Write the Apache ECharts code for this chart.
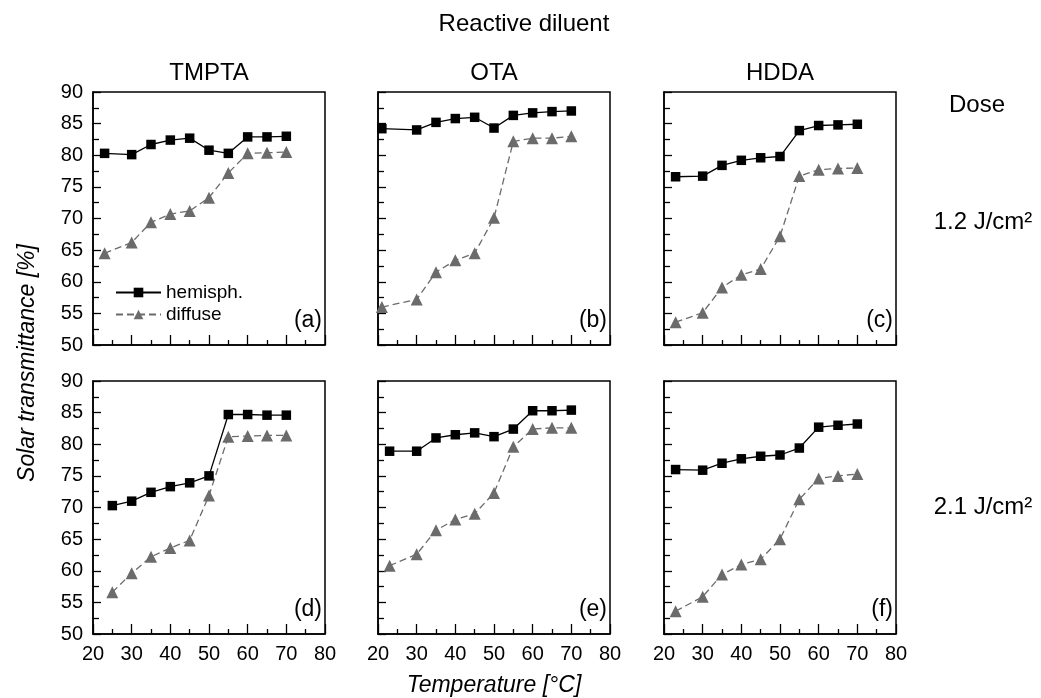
<!DOCTYPE html>
<html>
<head>
<meta charset="utf-8">
<script src="https://cdn.jsdelivr.net/npm/echarts@6/dist/echarts.min.js"></script>
<style>
  html, body { margin: 0; padding: 0; background: #fff; }
  #chart { width: 1041px; height: 698px; }
</style>
</head>
<body>
<div id="chart"></div>
<script>
// panel order: (a) TMPTA, (b) OTA, (c) HDDA at 1.2 J/cm², then (d)-(f) at 2.1 J/cm²
const diluents = ['TMPTA', 'OTA', 'HDDA'];
const doses = ['1.2 J/cm²', '2.1 J/cm²'];
const panelTags = ['(a)', '(b)', '(c)', '(d)', '(e)', '(f)'];

const tempA = [23, 30, 35, 40, 45, 50, 55, 60, 65, 70];
const tempB = [21, 30, 35, 40, 45, 50, 55, 60, 65, 70];
const tempC = [23, 30, 35, 40, 45, 50, 55, 60, 65, 70];
const tempD = [25, 30, 35, 40, 45, 50, 55, 60, 65, 70];
const tempE = [23, 30, 35, 40, 45, 50, 55, 60, 65, 70];
const tempF = [23, 30, 35, 40, 45, 50, 55, 60, 65, 70];

const hemiA = [80.3, 80.1, 81.7, 82.4, 82.7, 80.8, 80.3, 82.9, 82.9, 83.0];
const diffA = [64.5, 66.2, 69.4, 70.7, 71.2, 73.3, 77.2, 80.3, 80.4, 80.5];
const hemiB = [84.2, 84.0, 85.2, 85.8, 86.0, 84.3, 86.3, 86.7, 86.9, 87.0];
const diffB = [56.0, 57.2, 61.5, 63.4, 64.5, 70.1, 82.2, 82.7, 82.7, 83.0];
const hemiC = [76.6, 76.7, 78.4, 79.2, 79.6, 79.8, 83.9, 84.7, 84.8, 84.9];
const diffC = [53.6, 55.1, 59.1, 61.1, 62.0, 67.2, 76.7, 77.7, 77.9, 78.0];
const hemiD = [70.3, 71.0, 72.4, 73.3, 73.9, 75.0, 84.7, 84.7, 84.6, 84.6];
const diffD = [56.6, 59.6, 62.2, 63.6, 64.8, 71.9, 81.2, 81.3, 81.4, 81.4];
const hemiE = [78.9, 78.9, 81.0, 81.5, 81.8, 81.2, 82.4, 85.3, 85.3, 85.4];
const diffE = [60.8, 62.6, 66.4, 68.1, 69.0, 72.3, 79.6, 82.4, 82.6, 82.6];
const hemiF = [76.0, 75.9, 77.0, 77.7, 78.1, 78.3, 79.4, 82.7, 83.0, 83.2];
const diffF = [53.6, 55.9, 59.4, 61.0, 61.8, 65.0, 71.3, 74.6, 75.0, 75.3];

const xTicks = [20, 80, 10];   // min, max, interval
const yTicks = [50, 90, 5];

const panels = [
    { temp: tempA, hemi: hemiA, diff: diffA },
    { temp: tempB, hemi: hemiB, diff: diffB },
    { temp: tempC, hemi: hemiC, diff: diffC },
    { temp: tempD, hemi: hemiD, diff: diffD },
    { temp: tempE, hemi: hemiE, diff: diffE },
    { temp: tempF, hemi: hemiF, diff: diffF },
];

const FONT = 'Liberation Sans, Arial, sans-serif';
const gridLefts = [93, 378, 664];
const gridTops = [92, 381];
const gridW = 232;
const gridH = 253;
const doseY = [222, 507];

const pair = (xs, ys) => xs.map((x, i) => [x, ys[i]]);
const txt = (size, extra) => Object.assign(
    { fontSize: size, fontWeight: 'normal', fontFamily: FONT, color: '#000' }, extra || {});
// title helper: (cx, cy) is the centre of the text
const label = (text, cx, cy, size, extra) => ({
    text: text, left: cx, top: cy - size / 2, textAlign: 'center', padding: 0,
    textStyle: txt(size, extra)
});

const grids = [];
const xAxes = [];
const yAxes = [];
const series = [];
const graphics = [];

panels.forEach((p, i) => {
    const row = Math.floor(i / 3);
    const col = i % 3;
    grids.push({
        left: gridLefts[col], top: gridTops[row], width: gridW, height: gridH,
        show: true, borderColor: '#000', borderWidth: 1.5, backgroundColor: 'transparent'
    });
    xAxes.push({
        type: 'value', gridIndex: i, min: xTicks[0], max: xTicks[1], interval: xTicks[2],
        axisLine: { lineStyle: { color: '#000', width: 1.5 } },
        axisTick: { inside: true, length: 10, lineStyle: { color: '#000', width: 1.3 } },
        minorTick: { show: true, splitNumber: 2, length: 5, lineStyle: { color: '#000', width: 1.3 } },
        splitLine: { show: false },
        axisLabel: { show: row === 1, color: '#000', fontSize: 20, fontFamily: FONT, margin: 10 }
    });
    yAxes.push({
        type: 'value', gridIndex: i, min: yTicks[0], max: yTicks[1], interval: yTicks[2],
        axisLine: { lineStyle: { color: '#000', width: 1.5 } },
        axisTick: { inside: true, length: 8, lineStyle: { color: '#000', width: 1.3 } },
        minorTick: { show: true, splitNumber: 2, length: 6, lineStyle: { color: '#000', width: 1.3 } },
        splitLine: { show: false },
        axisLabel: { show: col === 0, color: '#000', fontSize: 20, fontFamily: FONT, margin: 10 }
    });
    series.push({
        name: 'hemisph.', type: 'line', xAxisIndex: i, yAxisIndex: i,
        data: pair(p.temp, p.hemi),
        symbol: 'rect', symbolSize: 9.5, z: 3,
        itemStyle: { color: '#000' },
        lineStyle: { color: '#000', width: 1.3 }
    });
    series.push({
        name: 'diffuse', type: 'line', xAxisIndex: i, yAxisIndex: i,
        data: pair(p.temp, p.diff),
        symbol: 'triangle', symbolSize: 12, z: 2,
        itemStyle: { color: '#6b6b6b' },
        lineStyle: { color: '#6b6b6b', width: 1.3, type: [7, 4] }
    });
    graphics.push({
        type: 'text', x: gridLefts[col] + gridW - 3, y: gridTops[row] + gridH - 24,
        style: { text: panelTags[i], font: '23px ' + FONT, fill: '#000',
                 align: 'right', verticalAlign: 'middle' }
    });
});

const titles = [label('Reactive diluent', 524, 24, 24)];
diluents.forEach((d, col) => {
    titles.push(label(d, gridLefts[col] + gridW / 2, 73, 24));
});
titles.push(label('Dose', 977, 105, 24));
doses.forEach((d, row) => {
    titles.push(label(d, 983, doseY[row], 24));
});
titles.push(label('Temperature [°C]', gridLefts[1] + gridW / 2, 686, 23, { fontStyle: 'italic' }));

graphics.push({
    type: 'text', x: 28, y: (gridTops[0] + gridTops[1] + gridH) / 2, rotation: Math.PI / 2,
    style: { text: 'Solar transmittance [%]', font: 'italic 23px ' + FONT, fill: '#000',
             align: 'center', verticalAlign: 'middle' }
});

const chart = echarts.init(document.getElementById('chart'));
chart.setOption({
    animation: false,
    backgroundColor: '#fff',
    title: titles,
    legend: {
        data: ['hemisph.', 'diffuse'],
        orient: 'vertical', left: 110, top: 278,
        itemWidth: 45, itemHeight: 12, itemGap: 3,
        textStyle: { fontSize: 19, fontFamily: FONT, color: '#000' }
    },
    grid: grids,
    xAxis: xAxes,
    yAxis: yAxes,
    series: series,
    graphic: graphics
});
</script>
</body>
</html>
